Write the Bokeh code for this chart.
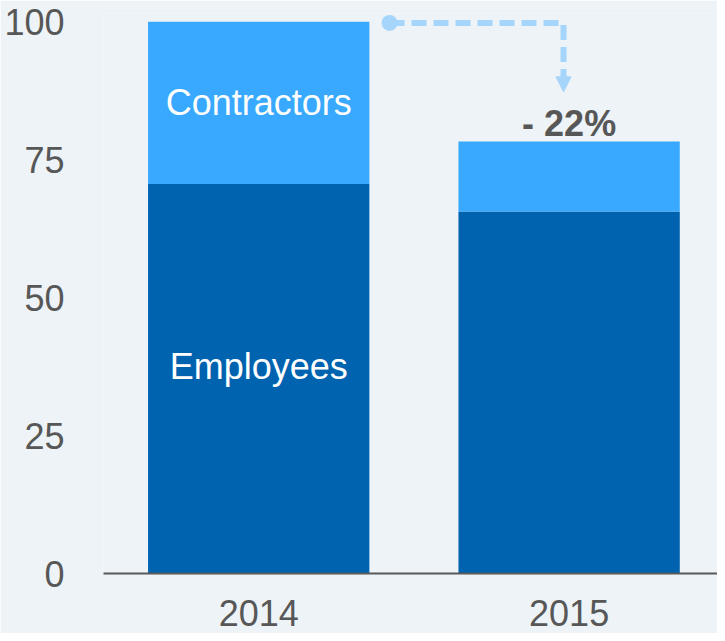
from bokeh.plotting import figure
from bokeh.models import ColumnDataSource, Range1d, FixedTicker, Arrow, NormalHead
from bokeh.core.properties import value
from bokeh.embed import file_html
from bokeh.resources import INLINE

# ---- data ----
years = ["2014", "2015"]
employees = [70.6, 65.6]
contractors = [29.4, 12.7]
change_label = "- 22%"
y_ticks = [0, 25, 50, 75, 100]

# ---- style ----
EMP_COLOR = "#0063b0"
CON_COLOR = "#38a9fe"
TEXT_COLOR = "#575757"
ARROW_COLOR = "#a5d5fb"
BG = "#edf3f6"
FONT = "Liberation Sans"
BAR_W = 0.713

xs = list(range(len(years)))
totals = [e + c for e, c in zip(employees, contractors)]

src = ColumnDataSource(dict(x=xs, employees=employees, contractors=contractors,
                            top=totals))

p = figure(width=717, height=633, output_backend="svg", toolbar_location=None,
           x_range=Range1d(-0.5, 1.478), y_range=Range1d(0, 101.5),
           min_border_left=103, min_border_right=0, min_border_top=13,
           min_border_bottom=60)
p.background_fill_color = BG
p.border_fill_color = BG
p.outline_line_color = None
p.grid.visible = False

p.vbar_stack(["employees", "contractors"], x="x", width=BAR_W,
             color=[EMP_COLOR, CON_COLOR], line_color=None, source=src)

# y axis
p.yaxis.ticker = FixedTicker(ticks=y_ticks)
p.yaxis.axis_line_color = None
p.yaxis.major_tick_line_color = None
p.yaxis.minor_tick_line_color = None
p.yaxis.major_label_text_font = FONT
p.yaxis.major_label_text_font_size = "36px"
p.yaxis.major_label_text_color = TEXT_COLOR
p.yaxis.major_label_standoff = 33

# x axis
p.xaxis.ticker = FixedTicker(ticks=xs)
p.xaxis.major_label_overrides = {i: y for i, y in zip(xs, years)}
p.xaxis.axis_line_color = "#595959"
p.xaxis.axis_line_width = 2
p.xaxis.major_tick_line_color = None
p.xaxis.minor_tick_line_color = None
p.xaxis.major_label_text_font = FONT
p.xaxis.major_label_text_font_size = "36px"
p.xaxis.major_label_text_color = TEXT_COLOR
p.xaxis.major_label_standoff = 20

# segment labels in the 2014 bar
p.text(x=[xs[0]], y=[employees[0] + contractors[0] / 2], text=["Contractors"],
       text_font=value(FONT), text_font_size="36px", text_color="white",
       text_align="center", text_baseline="middle")
p.text(x=[xs[0]], y=[employees[0] / 2], text=["Employees"], y_offset=-12,
       text_font=value(FONT), text_font_size="36px", text_color="white",
       text_align="center", text_baseline="middle")

# change label above the 2015 bar
p.text(x=[xs[1]], y=[totals[1]], text=[change_label], y_offset=-18,
       text_font=value(FONT), text_font_size="36px", text_font_style="bold",
       text_color=TEXT_COLOR, text_align="center", text_baseline="middle")

# dashed connector arrow
x0 = xs[0] + BAR_W / 2 + 0.065
x1 = xs[1] - 0.018
y0 = totals[0] - 0.2
tip = 87.3
p.line(x=[x0, x1, x1], y=[y0, y0, tip + 2.6], line_color=ARROW_COLOR,
       line_width=6, line_dash="15 7")
p.scatter(x=[x0], y=[y0], size=16, marker="circle", fill_color=ARROW_COLOR,
          line_color=None)
p.add_layout(Arrow(end=NormalHead(size=15, fill_color=ARROW_COLOR,
                                  line_color=ARROW_COLOR),
                   x_start=x1, y_start=tip + 2.7, x_end=x1, y_end=tip,
                   line_alpha=0))

open("out.html", "w").write(file_html(p, INLINE))
